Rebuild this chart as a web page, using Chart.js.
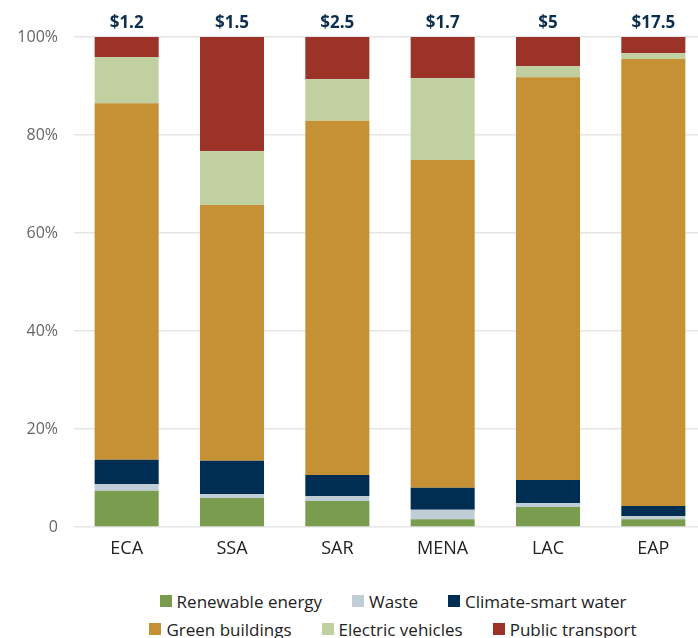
<!DOCTYPE html>
<html>
<head>
<meta charset="utf-8">
<script src="https://cdn.jsdelivr.net/npm/chart.js@4/dist/chart.umd.min.js"></script>
<style>
    html, body { margin: 0; padding: 0; background: #fff; overflow: hidden; }
    #wrap { width: 706px; height: 575px; position: relative; }
    #legend { margin-left: 88px; width: 610px; margin-top: 12px; font-family: 'Open Sans', sans-serif; font-size: 17px; color: #222; }
    .row { display: flex; justify-content: center; height: 28px; align-items: center; }
    .item { display: flex; align-items: center; margin: 0 15px; white-space: nowrap; }
    .box { width: 12px; height: 12px; margin-right: 5px; }
</style>
</head>
<body>
<div id="wrap"><canvas id="chart"></canvas></div>
<div id="legend"></div>
<script>
// ========== DADOS ==========
const regions = ['ECA', 'SSA', 'SAR', 'MENA', 'LAC', 'EAP'];
const totals = ['$1.2', '$1.5', '$2.5', '$1.7', '$5', '$17.5'];

const renewable = [7.4, 5.9, 5.3, 1.6, 4.1, 1.6];
const waste = [1.4, 0.8, 1.0, 1.9, 0.8, 0.6];
const water = [4.9, 6.8, 4.3, 4.5, 4.7, 2.1];
const greenBuildings = [72.8, 52.2, 72.3, 66.9, 82.2, 91.2];
const electricVehicles = [9.4, 11.0, 8.5, 16.7, 2.3, 1.2];
const publicTransport = [4.1, 23.3, 8.6, 8.4, 5.9, 3.3];

const yTicks = [0, 20, 40, 60, 80, 100];

const COLORS = {
    renewable: '#7a9c4e',
    waste: '#bfced6',
    water: '#002e52',
    green: '#c69035',
    ev: '#c0d0a0',
    transport: '#9c3328'
};

const series = [
    { label: 'Renewable energy', data: renewable, color: COLORS.renewable },
    { label: 'Waste', data: waste, color: COLORS.waste },
    { label: 'Climate-smart water', data: water, color: COLORS.water },
    { label: 'Green buildings', data: greenBuildings, color: COLORS.green },
    { label: 'Electric vehicles', data: electricVehicles, color: COLORS.ev },
    { label: 'Public transport', data: publicTransport, color: COLORS.transport }
];

// Rótulos de total acima das barras
const totalsPlugin = {
    id: 'totals',
    afterDatasetsDraw(chart) {
        const ctx = chart.ctx;
        const x = chart.scales.x;
        const y = chart.scales.y;
        ctx.save();
        ctx.font = "bold 17px 'Open Sans', sans-serif";
        ctx.fillStyle = '#0d2f4f';
        ctx.textAlign = 'center';
        ctx.textBaseline = 'bottom';
        totals.forEach((t, i) => {
            ctx.fillText(t, x.getPixelForValue(i), y.getPixelForValue(100) - 5);
        });
        ctx.restore();
    }
};

new Chart(document.getElementById('chart'), {
    type: 'bar',
    data: {
        labels: regions,
        datasets: series.map(s => ({
            label: s.label,
            data: s.data,
            backgroundColor: s.color,
            borderWidth: 0,
            categoryPercentage: 1,
            barPercentage: 0.608
        }))
    },
    options: {
        responsive: true,
        maintainAspectRatio: false,
        animation: false,
        layout: { padding: { top: 37, left: 0, right: 0, bottom: 0 } },
        plugins: {
            legend: { display: false },
            tooltip: { enabled: false }
        },
        scales: {
            x: {
                stacked: true,
                grid: { display: false, drawTicks: false },
                border: { display: false },
                ticks: {
                    padding: 11,
                    color: '#222',
                    font: { family: "'Open Sans', sans-serif", size: 18 }
                },
                afterFit: function (axis) { axis.height = 48; }
            },
            y: {
                stacked: true,
                min: 0,
                max: 100,
                afterBuildTicks: function (axis) {
                    axis.ticks = yTicks.map(v => ({ value: v }));
                },
                grid: { color: '#e6e6e6', lineWidth: 1.5, drawTicks: false },
                border: { display: false },
                ticks: {
                    padding: 16,
                    color: '#666',
                    font: { family: "'Open Sans', sans-serif", size: 16 },
                    callback: function (value) {
                        return value === 0 ? '0' : value + '%';
                    }
                },
                afterFit: function (axis) { axis.width = 74; }
            }
        }
    },
    plugins: [totalsPlugin]
});

// Legenda em HTML (duas linhas de três itens)
const legend = document.getElementById('legend');
[series.slice(0, 3), series.slice(3)].forEach(rowItems => {
    const row = document.createElement('div');
    row.className = 'row';
    rowItems.forEach(s => {
        const item = document.createElement('div');
        item.className = 'item';
        const box = document.createElement('span');
        box.className = 'box';
        box.style.background = s.color;
        const text = document.createElement('span');
        text.textContent = s.label;
        item.appendChild(box);
        item.appendChild(text);
        row.appendChild(item);
    });
    legend.appendChild(row);
});
</script>
</body>
</html>
